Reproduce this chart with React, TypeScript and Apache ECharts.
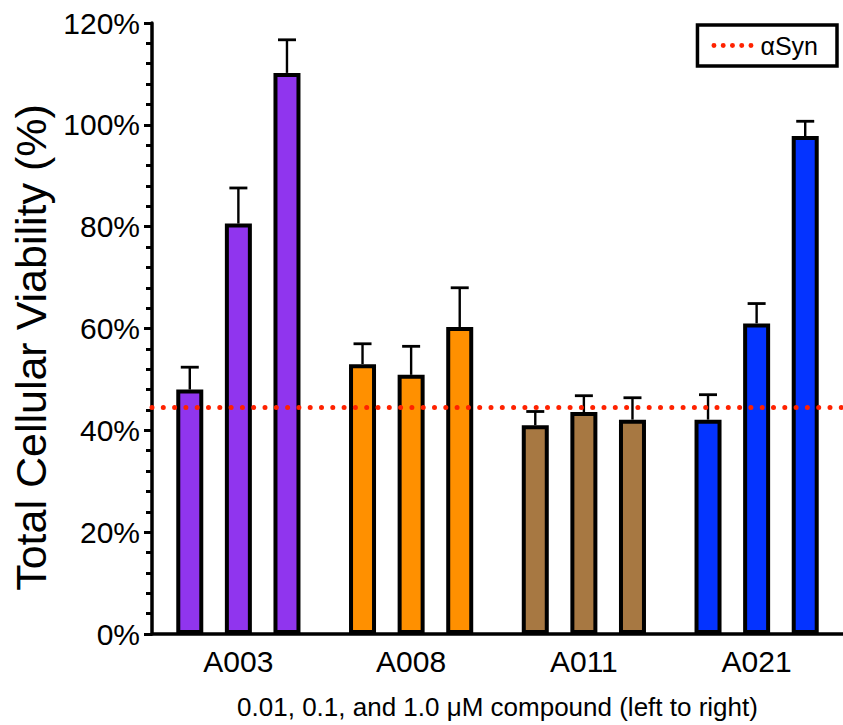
import React, { useEffect, useRef } from "react";
import * as echarts from "echarts";

const categories = ["A003", "A008", "A011", "A021"];
const groupColors = ["#9035ee", "#ff9000", "#a77842", "#0433ff"];
const doseLow = [48.0, 53.0, 41.0, 42.1];
const doseMid = [80.6, 50.9, 43.6, 61.0];
const doseHigh = [110.2, 60.3, 42.1, 97.8];
const errLow = [4.4, 4.0, 2.7, 4.9];
const errMid = [7.0, 5.6, 3.2, 3.9];
const errHigh = [6.5, 7.7, 4.3, 2.9];
const alphaSynLevel = 44.5;
const yTicks = [0, 20, 40, 60, 80, 100, 120];

const FONT = "'Liberation Sans', Arial, Helvetica, sans-serif";
const BAR_WIDTH = 27;
const BAR_GAP = 0.8;

// five dots legend icon
const DOTS_ICON =
  "path://" +
  [0, 1, 2, 3, 4]
    .map((i) => {
      const cx = 2.5 + i * 9.3;
      return `M${cx - 2.5},2.5a2.5,2.5 0 1,0 5,0a2.5,2.5 0 1,0 -5,0Z`;
    })
    .join("");

export default function App() {
  const ref = useRef<HTMLDivElement>(null);
  useEffect(() => {
    document.body.style.margin = "0";
    if (!ref.current) return;
    const chart = echarts.init(ref.current, null, { renderer: "svg" });
    const doses = [doseLow, doseMid, doseHigh];
    const errs = [errLow, errMid, errHigh];
    const step = BAR_WIDTH * (1 + BAR_GAP);

    const errorSeries = doses.map((vals, j) => ({
      type: "custom",
      z: 1,
      silent: true,
      data: vals.map((v, i) => [i, v, v + errs[j][i]]),
      encode: { x: 0, y: 2 },
      renderItem: (params: any, api: any) => {
        const cat = api.value(0);
        const base = api.coord([cat, api.value(1)]);
        const top = api.coord([cat, api.value(2)]);
        const x = base[0] + (j - 1) * step;
        return {
          type: "group",
          children: [
            {
              type: "line",
              shape: { x1: x, y1: base[1], x2: x, y2: top[1] },
              style: { stroke: "#000", lineWidth: 2.4 },
            },
            {
              type: "line",
              shape: { x1: x - 9, y1: top[1], x2: x + 9, y2: top[1] },
              style: { stroke: "#000", lineWidth: 2.8 },
            },
          ],
        };
      },
    }));

    const barSeries = doses.map((vals, j) => ({
      type: "bar",
      name: "dose" + j,
      z: 3,
      barWidth: BAR_WIDTH,
      barGap: BAR_GAP * 100 + "%",
      data: vals,
      itemStyle: {
        color: (p: any) => groupColors[p.dataIndex],
        borderColor: "#000",
        borderWidth: 4,
      },
    }));

    chart.setOption({
      animation: false,
      grid: { left: 152, right: -9, top: 23, bottom: 88, containLabel: false },
      legend: {
        data: [{ name: "αSyn", icon: DOTS_ICON, itemStyle: { color: "#ff2200", borderWidth: 0 } }],
        right: 6,
        top: 25,
        orient: "horizontal",
        borderColor: "#000",
        borderWidth: 3.5,
        padding: [8, 19, 8, 14],
        itemWidth: 42,
        itemHeight: 5,
        itemGap: 6,
        textStyle: { fontSize: 25, color: "#000", fontFamily: FONT, padding: [0, 0, 0, 2] },
      },
      xAxis: {
        type: "category",
        data: categories,
        axisLine: { lineStyle: { color: "#000", width: 3.5 } },
        axisTick: { alignWithLabel: true, length: 7, lineStyle: { color: "#000", width: 3 } },
        axisLabel: { fontSize: 30, color: "#000", fontFamily: FONT, margin: 12 },
        name: "0.01, 0.1, and 1.0 μM compound (left to right)",
        nameLocation: "middle",
        nameGap: 60,
        nameTextStyle: { fontSize: 26, color: "#000", fontFamily: FONT },
      },
      yAxis: {
        type: "value",
        min: yTicks[0],
        max: yTicks[yTicks.length - 1],
        interval: yTicks[1] - yTicks[0],
        axisLine: { show: true, lineStyle: { color: "#000", width: 3.5 } },
        axisTick: { show: true, length: 8, lineStyle: { color: "#000", width: 3 } },
        minorTick: { show: true, splitNumber: 5, length: 6, lineStyle: { color: "#000", width: 3 } },
        splitLine: { show: false },
        axisLabel: { formatter: "{value}%", fontSize: 30, color: "#000", fontFamily: FONT, margin: 12 },
        name: "Total Cellular Viability (%)",
        nameLocation: "middle",
        nameGap: 100,
        nameTextStyle: { fontSize: 43, color: "#000", fontFamily: FONT, padding: [0, 38, 0, 0] },
      },
      series: [
        ...errorSeries,
        ...barSeries,
        {
          type: "line",
          name: "αSyn",
          data: [],
          symbol: "none",
          z: 5,
          lineStyle: { color: "#ff2200", width: 5, type: [0, 9.3], cap: "round" },
          itemStyle: { color: "#ff2200" },
          markLine: {
            silent: true,
            symbol: "none",
            label: { show: false },
            lineStyle: { color: "#ff2200", width: 5, type: [0, 11.3], cap: "round" },
            data: [{ yAxis: alphaSynLevel }],
          },
        },
      ],
    });
    return () => chart.dispose();
  }, []);
  return <div ref={ref} style={{ width: 843, height: 725 }} />;
}
